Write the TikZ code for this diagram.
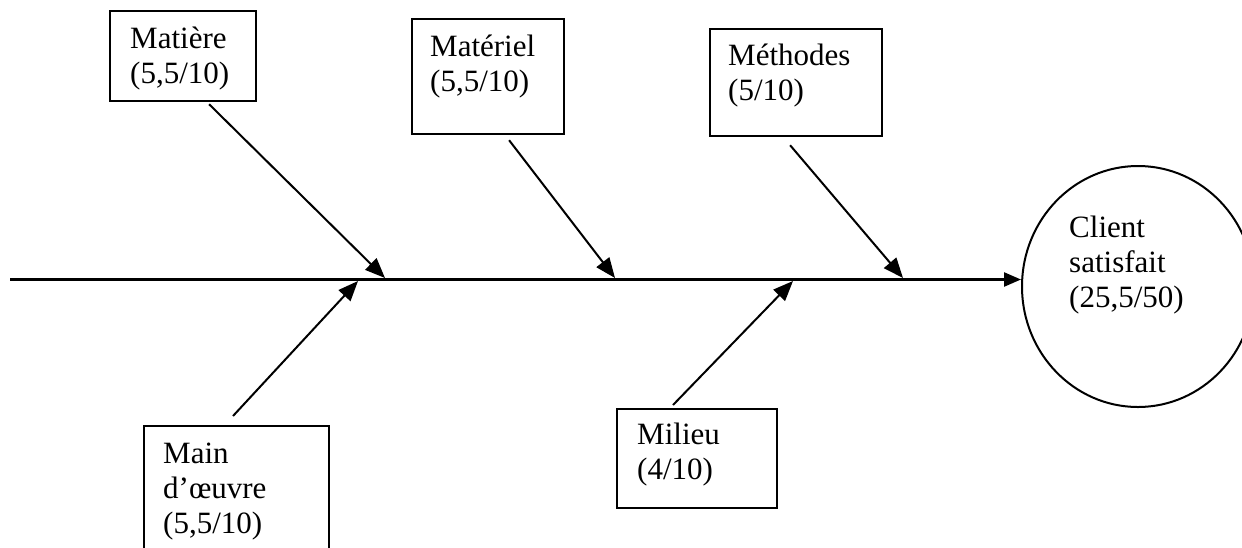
\documentclass[tikz,border=0pt]{standalone}
\usepackage{fontspec}
\setmainfont{Liberation Serif}
\usetikzlibrary{arrows.meta,calc,shapes.geometric}
\begin{document}
\begin{tikzpicture}[x=1pt,y=-1pt,
  box/.style={draw,line width=2.2pt,inner sep=0pt,anchor=north west},
  lbl/.style={anchor=base west,inner sep=0pt,font=\fontsize{31}{35}\selectfont},
  spine/.style={line width=2.4pt,-{Triangle[length=17pt,width=14pt]}},
  cause/.style={line width=2pt,-{Triangle[length=20pt,width=16pt]}}]
\clip (0,0) rectangle (1242,547);
% boxes
\node[box,minimum width=146pt,minimum height=90pt] (matiere) at (109,10) {};
\node[box,minimum width=152pt,minimum height=115pt] (materiel) at (411,18) {};
\node[box,minimum width=172pt,minimum height=107pt] (methodes) at (709,28) {};
\node[box,minimum width=160pt,minimum height=99pt] (milieu) at (616,408) {};
\node[box,minimum width=185pt,minimum height=160pt] (main) at (143,425) {};
\node[draw,line width=2pt,ellipse,minimum width=232pt,minimum height=241pt,inner sep=0pt] (client) at (1138,286.5) {};
% labels
\node[lbl] (tmatiere) at ($(matiere.north west)+(21,38)$) {\begin{tabular}[t]{@{}l@{}}Matière\\(5,5/10)\end{tabular}};
\node[lbl] (tmateriel) at ($(materiel.north west)+(19,38)$) {\begin{tabular}[t]{@{}l@{}}Matériel\\(5,5/10)\end{tabular}};
\node[lbl] (tmethodes) at ($(methodes.north west)+(19,37)$) {\begin{tabular}[t]{@{}l@{}}Méthodes\\(5/10)\end{tabular}};
\node[lbl] (tmilieu) at ($(milieu.north west)+(21,36)$) {\begin{tabular}[t]{@{}l@{}}Milieu\\(4/10)\end{tabular}};
\node[lbl] (tmain) at ($(main.north west)+(20,38)$) {\begin{tabular}[t]{@{}l@{}}Main\\d’œuvre\\(5,5/10)\end{tabular}};
\node[lbl] (tclient) at (1069,237) {\begin{tabular}[t]{@{}l@{}}Client\\satisfait\\(25,5/50)\end{tabular}};
% spine
\coordinate (tail) at (10,279.5);
\draw[spine] (tail) -- (tail -| client.west);
% tips on the spine
\coordinate (t1) at (385,278);
\coordinate (t2) at (358,281);
\coordinate (t3) at (615,278);
\coordinate (t4) at (793,281);
\coordinate (t5) at (903,278);
\draw[cause] ($(matiere.south)+(26,2)$) -- (t1);
\draw[cause] ($(main.north west)+(90,-9)$) -- (t2);
\draw[cause] ($(materiel.south)+(21,5)$) -- (t3);
\draw[cause] ($(milieu.north west)+(57,-3)$) -- (t4);
\draw[cause] ($(methodes.south)+(-6,8)$) -- (t5);
\end{tikzpicture}
\end{document}
